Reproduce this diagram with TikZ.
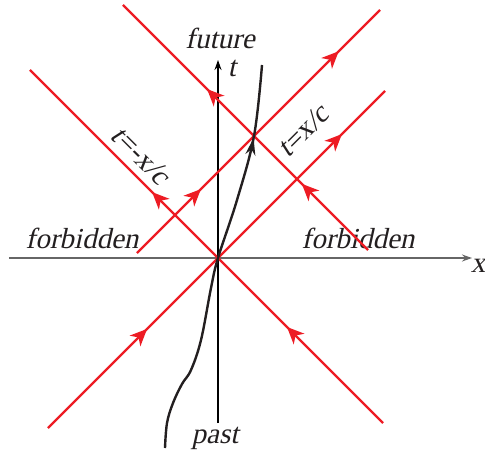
\documentclass[tikz,border=0pt]{standalone}
\usepackage{fontspec}
\newfontfamily\slantserif{Liberation Serif}[FakeSlant=0.22]
\usetikzlibrary{arrows.meta,decorations.markings}

\definecolor{conered}{RGB}{237,28,36}
\definecolor{inkgray}{RGB}{35,31,32}

\tikzset{
  ray/.style={draw=conered, line width=1.1pt},
  fwd/.style={postaction={decorate, decoration={markings,
      mark=at position #1 with {\arrow[conered]{Stealth[length=8.5pt,width=7.5pt,inset=2.5pt]}}}}},
  lbl/.style={font=\fontsize{14.5}{16}\slantserif\selectfont, text=inkgray, inner sep=0pt},
}

\begin{document}
\begin{tikzpicture}[x=0.5pt,y=0.5pt]
  \useasboundingbox (-218,-197) rectangle (267,258);
  % axes
  \coordinate (xl) at (-209,0);
  \coordinate (xr) at (254,0);
  \coordinate (tb) at (0,-165);
  \coordinate (tt) at (0,198);
  \draw[black!60, line width=0.8pt, -{Stealth[length=5pt,width=3.5pt]}] (xl) -- (xr);
  \draw[black, line width=0.6pt, -{Stealth[length=5pt,width=3.5pt]}] (tb) -- (tt);
  \node[lbl] (xlab) at (260,-8) {x};
  \node[lbl] (tlab) at (14,190) {t};
  \node[lbl] (fut) at (2,220) {future};
  \node[lbl] (pst) at (-3,-180) {past};
  \node[lbl] (fbl) at (-136,20) {forbidden};
  \node[lbl] (fbr) at (140,20) {forbidden};
  % light cone through the origin
  \coordinate (O) at (0,0);
  \coordinate (c1) at (-170,-170);
  \coordinate (c2) at (167,167);
  \coordinate (b1) at (165,-165);
  \coordinate (b2) at (-188,188);
  \draw[ray, fwd=0.294, fwd=0.872] (c1) -- (c2);
  \draw[ray, fwd=0.272, fwd=0.654] (b1) -- (b2);
  % light rays through the event E
  \coordinate (E) at (36,122);
  \coordinate (a1) at (150,8);
  \coordinate (a2) at (-95,253);
  \coordinate (d1) at (-81,5);
  \coordinate (d2) at (162,248);
  \draw[ray, fwd=0.27, fwd=0.657] (a1) -- (a2);
  \draw[ray, fwd=0.263, fwd=0.83] (d1) -- (d2);
  \node[lbl, rotate=-45] (lneg) at (-77,103) {t=-x/c};
  \node[lbl, rotate=45] (lpos) at (85,127) {t=x/c};
  % world line
  \draw[inkgray, line width=1.2pt,
        postaction={decorate, decoration={markings,
        mark=at position 0.815 with {\arrow{Stealth[length=8.5pt,width=5pt]}}}}]
    plot[smooth, tension=0.6] coordinates {(-53,-190) (-51,-165) (-45,-145)
      (-36,-126) (-27,-112) (-17,-82) (-7,-30) (O) (19,58) (E) (44,193)};
\end{tikzpicture}
\end{document}
